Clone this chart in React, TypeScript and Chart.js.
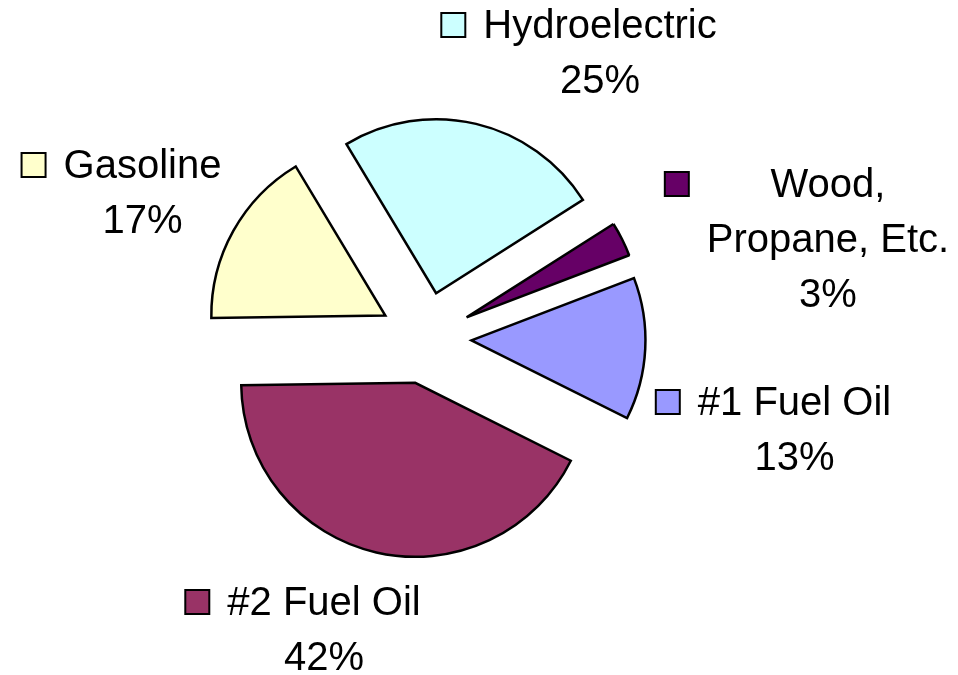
import React, { useEffect, useRef } from "react";
import { Chart, registerables } from "chart.js";

Chart.register(...registerables);

const categories = ["Hydroelectric", "Wood, Propane, Etc.", "#1 Fuel Oil", "#2 Fuel Oil", "Gasoline"];
const labelLines = [["Hydroelectric"], ["Wood,", "Propane, Etc."], ["#1 Fuel Oil"], ["#2 Fuel Oil"], ["Gasoline"]];
const shares = [24.6, 3.2, 13.2, 42.4, 16.6];

const sliceColors = ["#CCFFFF", "#660066", "#9999FF", "#993366", "#FFFFCC"];
// label anchor (text centre x, first baseline y) relative to the pie centre
const labelAnchors: [number, number][] = [
  [174.5, -300],
  [402.5, -141],
  [369, 77],
  [-101.5, 277],
  [-283, -160],
];

const EXPLODE = 46; // pixel distance of every slice from the centre
const RADIUS = 174;
const FONT = '40px "Liberation Sans", Arial, sans-serif';
const LINE_H = 55;
const KEY = 24;
const KEY_GAP = 18;

const total = shares.reduce((a, b) => a + b, 0);
const percentLabels = shares.map((v) => Math.round((v / total) * 100) + "%");

const centreOf = (chart: any) => ({
  x: (chart.chartArea.left + chart.chartArea.right) / 2,
  y: (chart.chartArea.top + chart.chartArea.bottom) / 2,
});

// explode: move every slice outward along its mid angle by the same distance
const explodePlugin = {
  id: "explodeSlices",
  beforeDatasetsDraw(chart: any) {
    const meta = chart.getDatasetMeta(0);
    const c = centreOf(chart);
    meta.data.forEach((arc: any) => {
      const mid = (arc.startAngle + arc.endAngle) / 2;
      arc.x = c.x + Math.cos(mid) * EXPLODE;
      arc.y = c.y + Math.sin(mid) * EXPLODE;
    });
  },
};

const labelPlugin = {
  id: "outsideLabels",
  afterDatasetsDraw(chart: any) {
    const ctx = chart.ctx;
    const c = centreOf(chart);
    ctx.save();
    ctx.font = FONT;
    ctx.fillStyle = "#000";
    ctx.textAlign = "center";
    ctx.textBaseline = "alphabetic";
    labelLines.forEach((lines, i) => {
      const all = [...lines, percentLabels[i]];
      const tx = c.x + labelAnchors[i][0];
      const ty = c.y + labelAnchors[i][1];
      let maxW = 0;
      all.forEach((l) => {
        maxW = Math.max(maxW, ctx.measureText(l).width);
      });
      all.forEach((l, j) => {
        ctx.fillText(l, tx, ty + j * LINE_H);
      });
      const kx = tx - maxW / 2 - KEY_GAP - KEY;
      const ky = ty - KEY - 1;
      ctx.fillStyle = sliceColors[i];
      ctx.fillRect(kx, ky, KEY, KEY);
      ctx.lineWidth = 2;
      ctx.strokeStyle = "#000";
      ctx.strokeRect(kx, ky, KEY, KEY);
      ctx.fillStyle = "#000";
    });
    ctx.restore();
  },
};

export default function App() {
  const ref = useRef<HTMLCanvasElement | null>(null);
  useEffect(() => {
    document.body.style.margin = "0";
    const canvas = ref.current;
    if (!canvas) return;
    const chart = new Chart(canvas, {
      type: "pie",
      data: {
        labels: categories,
        datasets: [
          {
            data: shares,
            backgroundColor: sliceColors,
            borderColor: "#000",
            borderWidth: 2.5,
            borderJoinStyle: shares.map((v) => ((v / total) * 360 < 20 ? "bevel" : "miter")),
            offset: 0,
          } as any,
        ],
      },
      options: {
        responsive: false,
        animation: false,
        rotation: -31,
        radius: RADIUS,
        layout: { padding: { left: 0, right: 107, top: 1, bottom: 0 } },
        plugins: {
          legend: { display: false },
          tooltip: { enabled: false },
        },
      } as any,
      plugins: [explodePlugin, labelPlugin],
    });
    return () => chart.destroy();
  }, []);
  return (
    <div style={{ width: 958, height: 675, background: "#fff" }}>
      <canvas ref={ref} width={958} height={675} style={{ display: "block" }} />
    </div>
  );
}
